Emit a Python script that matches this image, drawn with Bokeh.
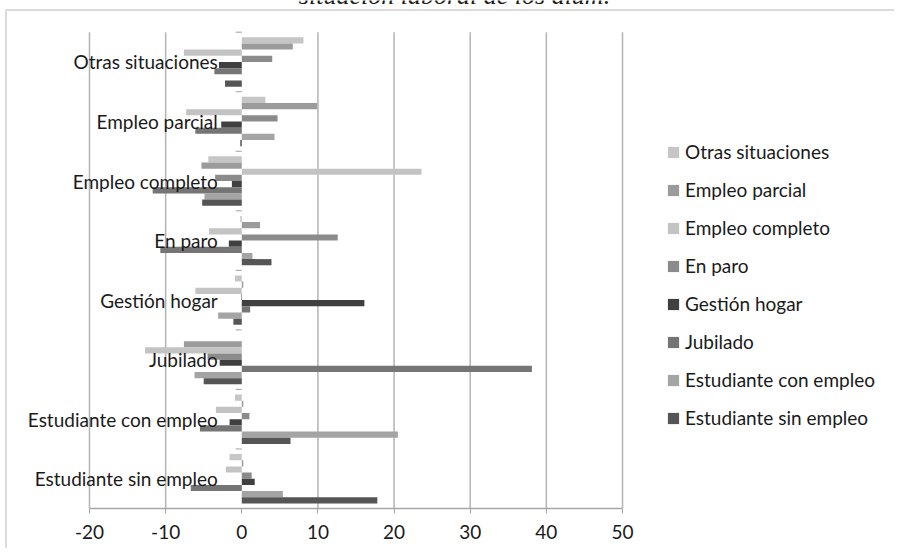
from bokeh.plotting import figure
from bokeh.models import (ColumnDataSource, Range1d, FixedTicker, Legend,
                          LegendItem, BoxAnnotation, Label)
from bokeh.core.properties import value
from bokeh.embed import file_html
from bokeh.resources import INLINE

# Categories, bottom to top
categories = ["Estudiante sin empleo", "Estudiante con empleo", "Jubilado", "Gestión hogar",
              "En paro", "Empleo completo", "Empleo parcial", "Otras situaciones"]

# Series (legend order = top bar of each group first); values follow `categories`
otras_situaciones = [-1.6, -0.9, 0.0, -0.9, -0.2, -4.4, 3.1, 8.1]
empleo_parcial = [0.2, 0.2, -7.6, 0.2, 2.4, -5.3, 9.9, 6.7]
empleo_completo = [-2.1, -3.4, -12.7, -6.1, -4.3, 23.6, -7.3, -7.6]
en_paro = [1.3, 1.0, -4.5, -0.1, 12.6, -3.5, 4.7, 4.0]
gestion_hogar = [1.7, -1.6, -2.9, 16.1, -1.7, -1.3, -2.7, -3.0]
jubilado = [-6.7, -5.5, 38.1, 1.1, -10.7, -11.7, -6.1, -3.6]
estudiante_con_empleo = [5.4, 20.5, -6.2, -3.1, 1.4, -4.9, 4.3, 0.0]
estudiante_sin_empleo = [17.8, 6.4, -5.0, -1.1, 3.9, -5.2, -0.2, -2.2]

series_names = ["Otras situaciones", "Empleo parcial", "Empleo completo", "En paro",
                "Gestión hogar", "Jubilado", "Estudiante con empleo", "Estudiante sin empleo"]
series_values = [otras_situaciones, empleo_parcial, empleo_completo, en_paro,
                 gestion_hogar, jubilado, estudiante_con_empleo, estudiante_sin_empleo]
series_colors = ["#c6c6c6", "#9b9b9b", "#c3c3c3", "#8b8b8b",
                 "#404040", "#757575", "#a4a4a4", "#555555"]

x_ticks = [-20, -10, 0, 10, 20, 30, 40, 50]
x_min, x_max = -20, 50
title_text = "situación laboral de los alum."

FONT = "Lato"
TEXT_COLOR = "#1a1a1a"
GRID_COLOR = "#b3b3b3"

# ---- layout (pixels) ----
W, H = 894, 548
PLOT_LEFT, PLOT_RIGHT = 89, 622      # where x_min / x_max fall
PLOT_TOP, PLOT_BOTTOM = 31.7, 508    # top of first band / axis line

n_cat = len(categories)
px_per_x = (PLOT_RIGHT - PLOT_LEFT) / (x_max - x_min)
px_per_cat = (PLOT_BOTTOM - PLOT_TOP) / n_cat
x_start = x_min - PLOT_LEFT / px_per_x
x_end = x_min + (W - PLOT_LEFT) / px_per_x
y_start = -0.5 - (H - PLOT_BOTTOM) / px_per_cat
y_end = n_cat - 0.5 + PLOT_TOP / px_per_cat

p = figure(width=W, height=H, output_backend="svg", toolbar_location=None,
           x_range=Range1d(x_start, x_end), y_range=Range1d(y_start, y_end),
           y_axis_location=None, min_border_left=0, min_border_right=0,
           min_border_top=0, min_border_bottom=0)
p.outline_line_color = None
p.background_fill_color = "white"
p.border_fill_color = "white"
p.xgrid.visible = False
p.ygrid.visible = False

# x axis, drawn at the bottom of the category bands
ax = p.xaxis[0]
ax.fixed_location = -0.5
ax.bounds = (x_min, x_max)
ax.ticker = FixedTicker(ticks=x_ticks)
ax.major_label_overrides = {t: str(t) for t in x_ticks}
ax.axis_line_color = "#a6a6a6"
ax.axis_line_width = 1.5
ax.major_tick_line_color = "#a6a6a6"
ax.major_tick_in = 0
ax.major_tick_out = 5
ax.minor_tick_line_color = None
ax.major_label_standoff = 11
ax.major_label_text_font = FONT
ax.major_label_text_font_size = "19px"
ax.major_label_text_color = TEXT_COLOR

# vertical grid lines (none at zero), spanning the category bands
grid_x = [t for t in x_ticks if t != 0]
p.segment(x0=grid_x, x1=grid_x, y0=[-0.5] * len(grid_x), y1=[n_cat - 0.5] * len(grid_x),
          line_color=GRID_COLOR, line_width=1.5)

cat_index = list(range(n_cat))
n = len(series_names)
bar_h = 0.1037
renderers = []
for i in range(n):
    off = (3.5 - i) * bar_h
    src = ColumnDataSource({"y": [c + off for c in cat_index], "v": series_values[i]})
    r = p.hbar(y="y", left=0, right="v", height=bar_h, source=src,
               fill_color=series_colors[i], line_color=None)
    renderers.append(r)

# small ticks at category boundaries next to zero
bounds_y = [c - 0.5 for c in cat_index] + [n_cat - 0.5]
p.segment(x0=[-0.8] * len(bounds_y), x1=[0] * len(bounds_y), y0=bounds_y, y1=bounds_y,
          line_color="#a0a0a0", line_width=1)

# category labels
lab_src = ColumnDataSource({"y": cat_index, "x": [0] * n_cat, "t": categories})
p.text(x="x", y="y", text="t", source=lab_src, x_offset=-24, text_align="right",
       text_baseline="middle", text_font=value(FONT), text_font_size=value("19px"),
       text_color=TEXT_COLOR)

legend = Legend(items=[LegendItem(label=series_names[i], renderers=[renderers[i]]) for i in range(n)],
                location=(666, 79 + (H - PLOT_BOTTOM)), orientation="vertical",
                glyph_width=14, glyph_height=14, label_height=14, spacing=15,
                label_standoff=5, padding=0, margin=0,
                border_line_color=None, background_fill_alpha=0,
                label_text_font=FONT, label_text_font_size="19px", label_text_color=TEXT_COLOR)
p.add_layout(legend)

# chart area border (top and left), frame-relative screen units (bottom-up)
border = BoxAnnotation(left=5.5, top=H - 9.5, right=5000, bottom=-5000,
                       left_units="screen", right_units="screen",
                       top_units="screen", bottom_units="screen",
                       fill_alpha=0, line_color="#878787", line_width=2)
p.add_layout(border)

# title, mostly above the visible area (as in the cropped original)
title = Label(x=454, y=H + 5, x_units="screen", y_units="screen", text=title_text,
              text_align="center", text_baseline="alphabetic",
              text_font="Liberation Serif", text_font_style="italic",
              text_font_size="26px", text_color="#1a1a1a")
p.add_layout(title)

open("out.html", "w").write(file_html(p, INLINE))
